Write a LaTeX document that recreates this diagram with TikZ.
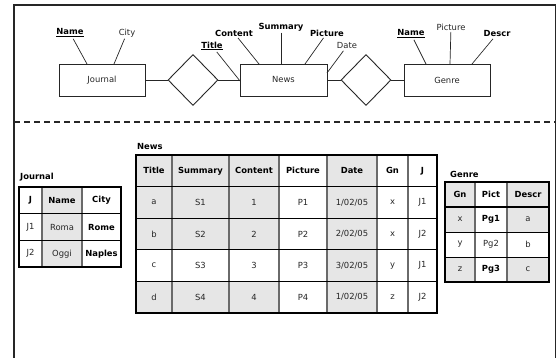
\documentclass[tikz,border=0pt]{standalone}
\usepackage{fontspec}
\setmainfont{DejaVu Sans}
\usetikzlibrary{shapes.geometric}
\definecolor{cellgray}{HTML}{E6E6E6}
\definecolor{ink}{HTML}{262626}
\definecolor{gridgray}{HTML}{6A6A6A}
\newcommand\sz{\fontsize{8.4}{10}\selectfont}
% one data row of the News table: name prefix, y, seven values
\newcommand\newsrow[9]{%
  \node[cell] (#1-1) at (154,#2) {#3};
  \node[cell] (#1-2) at (200.5,#2) {#4};
  \node[cell] (#1-3) at (254,#2) {#5};
  \node[cell] (#1-4) at (303,#2) {#6};
  \node[cell] (#1-5) at (352,#2) {#7};
  \node[cell] (#1-6) at (392.5,#2) {#8};
  \node[cell] (#1-7) at (422.5,#2) {#9};}
\begin{document}
\begin{tikzpicture}[x=1pt,y=-1pt,
  entity/.style={draw=ink, line width=0.9pt, minimum width=86pt, minimum height=32pt, inner sep=0pt, text=ink, font=\sz},
  rel/.style={diamond, draw=ink, line width=0.9pt, minimum width=50pt, minimum height=51pt, inner sep=0pt},
  attr/.style={inner sep=1.5pt, text=ink, font=\sz},
  keyattr/.style={inner sep=1.5pt, text=black, font=\sz\bfseries},
  link/.style={draw=black!85, line width=0.7pt},
  cell/.style={inner sep=0pt, text=ink, font=\sz},
  bcell/.style={inner sep=0pt, text=black, font=\sz\bfseries},
  tlabel/.style={anchor=west, inner sep=0pt, text=black, font=\sz\bfseries},
  cellfill/.style={fill=cellgray},
  gridline/.style={draw=gridgray, line width=1.2pt},
  rowline/.style={draw=black, line width=0.9pt},
  headline/.style={draw=black, line width=1.6pt},
  tableframe/.style={draw=black, line width=1.8pt},
  ]
\useasboundingbox (0,0) rectangle (558,358);

% page frame and separator
\draw[draw=ink, line width=1.8pt] (14,362) -- (14,5) -- (555.5,5) -- (555.5,362);
\draw[draw=black!85, line width=1.8pt, dash pattern=on 6pt off 4pt] (14,122) -- (555.5,122);

% ---------- E-R schema ----------
\node[entity] (jr) at (102,80) {Journal};
\node[entity, minimum width=87pt] (nw) at (283.5,80) {News};
\node[entity] (gr) at (447,80) {Genre};
\node[rel] (r1) at (193,80) {};
\node[rel] (r2) at (366,80) {};
\draw[link] (jr.east) -- (r1.west);
\draw[link] (r1.east) -- (nw.west);
\draw[link] (nw.east) -- (r2.west);
\draw[link] (r2.east) -- (gr.west);

% attributes
\node[keyattr] (aJname) at (70,33) {\underline{Name}};
\node[attr] (aJcity) at (127,33) {City};
\node[keyattr] (aNtitle) at (212,46) {\underline{Title}};
\node[keyattr] (aNcontent) at (234,33) {Content};
\node[keyattr] (aNsummary) at (281,27) {Summary};
\node[keyattr] (aNpicture) at (327,33) {Picture};
\node[attr] (aNdate) at (347,46) {Date};
\node[keyattr] (aGname) at (411,34) {\underline{Name}};
\node[attr] (aGpicture) at (451,27) {Picture};
\node[keyattr] (aGdescr) at (497,34) {Descr};

\coordinate (pJname) at (87,64);
\coordinate (pJcity) at (114,64);
\coordinate (pNtitle) at (240,81);
\coordinate (pNcontent) at (259,64);
\coordinate (pNsummary) at (281,64);
\coordinate (pNpicture) at (305,64);
\coordinate (pNdate) at (327,73);
\coordinate (pGname) at (426,64);
\coordinate (pGpicture) at (450,64);
\coordinate (pGdescr) at (472,64);

\foreach \a in {Jname,Jcity,Ntitle,Ncontent,Nsummary,Npicture,Ndate,Gname,Gpicture,Gdescr}
  \draw[link] (a\a) -- (p\a);

% ---------- Journal table ----------
\node[tlabel] (tJ) at (20,177) {Journal};
\fill[cellfill] (42,187) rectangle (82,267);
\draw[gridline] (42,187) -- (42,267) (82,187) -- (82,267);
\draw[rowline] (19,240.3) -- (121,240.3);
\draw[headline] (19,213.7) -- (121,213.7);
\draw[tableframe] (19,187) rectangle (121,267);
\node[bcell] (j-h-1) at (30.5,200.3) {J};
\node[bcell] (j-h-2) at (62,200.3) {Name};
\node[bcell] (j-h-3) at (101.5,200.3) {City};
\node[cell] (j-1-1) at (30.5,227) {J1};
\node[cell] (j-1-2) at (62,227) {Roma};
\node[bcell] (j-1-3) at (101.5,227) {Rome};
\node[cell] (j-2-1) at (30.5,253.7) {J2};
\node[cell] (j-2-2) at (62,253.7) {Oggi};
\node[bcell] (j-2-3) at (101.5,253.7) {Naples};

% ---------- News table ----------
\node[tlabel] (tN) at (137,146) {News};
\fill[cellfill] (136,155) rectangle (279,249.8);
\fill[cellfill] (136,281.4) rectangle (279,313);
\fill[cellfill] (327,155) rectangle (377,313);
\foreach \x in {172,229,279,327,377,408}
  \draw[gridline] (\x,155) -- (\x,313);
\foreach \y in {218.2,249.8,281.4}
  \draw[rowline] (136,\y) -- (437,\y);
\draw[headline] (136,186.6) -- (437,186.6);
\draw[tableframe] (136,155) rectangle (437,313);
\foreach \x/\t [count=\i] in {154/Title,200.5/Summary,254/Content,303/Picture,352/Date,392.5/Gn,422.5/J}
  \node[bcell] (n-h-\i) at (\x,170.8) {\t};
\newsrow{n-1}{202.4}{a}{S1}{1}{P1}{1/02/05}{x}{J1}
\newsrow{n-2}{234}{b}{S2}{2}{P2}{2/02/05}{x}{J2}
\newsrow{n-3}{265.6}{c}{S3}{3}{P3}{3/02/05}{y}{J1}
\newsrow{n-4}{297.2}{d}{S4}{4}{P4}{1/02/05}{z}{J2}

% ---------- Genre table ----------
\node[tlabel] (tG) at (450,174) {Genre};
\fill[cellfill] (445,182) rectangle (475,232);
\fill[cellfill] (445,257) rectangle (475,282);
\fill[cellfill] (507,182) rectangle (549,232);
\fill[cellfill] (507,257) rectangle (549,282);
\draw[gridline] (475,182) -- (475,282) (507,182) -- (507,282);
\draw[rowline] (445,232) -- (549,232) (445,257) -- (549,257);
\draw[headline] (445,207) -- (549,207);
\draw[tableframe] (445,182) rectangle (549,282);
\node[bcell] (g-h-1) at (460,194.5) {Gn};
\node[bcell] (g-h-2) at (491,194.5) {Pict};
\node[bcell] (g-h-3) at (528,194.5) {Descr};
\node[cell] (g-1-1) at (460,219.5) {x};
\node[bcell] (g-1-2) at (491,219.5) {Pg1};
\node[cell] (g-1-3) at (528,219.5) {a};
\node[cell] (g-2-1) at (460,244.5) {y};
\node[cell] (g-2-2) at (491,244.5) {Pg2};
\node[cell] (g-2-3) at (528,244.5) {b};
\node[cell] (g-3-1) at (460,269.5) {z};
\node[bcell] (g-3-2) at (491,269.5) {Pg3};
\node[cell] (g-3-3) at (528,269.5) {c};
\end{tikzpicture}
\end{document}
